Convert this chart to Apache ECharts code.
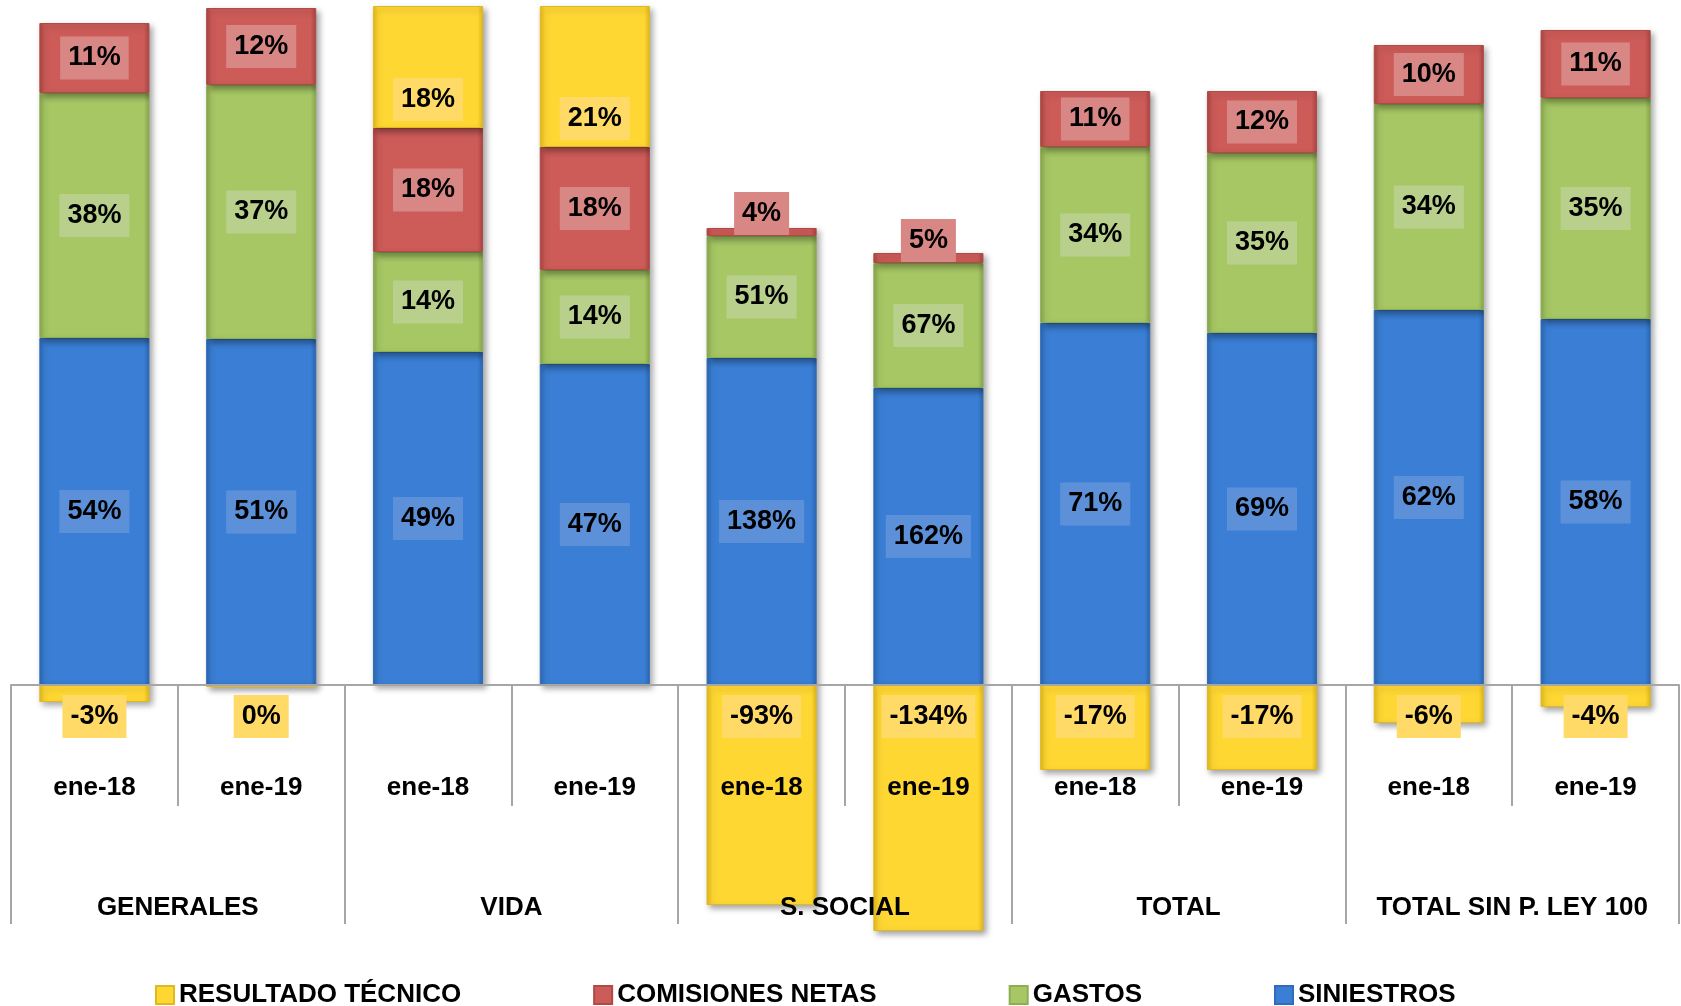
<!DOCTYPE html>
<html>
<head>
<meta charset="utf-8">
<script src="https://cdn.jsdelivr.net/npm/echarts@6/dist/echarts.min.js"></script>
<style>
html,body{margin:0;padding:0;background:#fff;}
#chart{width:1681px;height:1006px;}
</style>
</head>
<body>
<div id="chart"></div>
<script>
// Categories
const months = ['ene-18','ene-19','ene-18','ene-19','ene-18','ene-19','ene-18','ene-19','ene-18','ene-19'];
const groups = ['GENERALES','VIDA','S. SOCIAL','TOTAL','TOTAL SIN P. LEY 100'];

// Amounts (bar heights)
const siniestros  = [347, 346, 333, 321, 327, 297, 362, 352, 375, 366];
const gastos      = [245, 254, 100,  94, 122, 125, 176, 180, 206, 221];
const comisiones  = [ 70,  77, 124, 123,   8,  10,  56,  62,  59,  68];
const resultado   = [-17,  -2, 122, 141, -220, -246, -85, -85, -38, -22];

// Percent labels shown on the bars
const siniestrosPct = [54, 51, 49, 47, 138, 162, 71, 69, 62, 58];
const gastosPct     = [38, 37, 14, 14, 51, 67, 34, 35, 34, 35];
const comisionesPct = [11, 12, 18, 18, 4, 5, 11, 12, 10, 11];
const resultadoPct  = [-3, 0, 18, 21, -93, -134, -17, -17, -6, -4];

const FONT = "'Liberation Sans Narrow','Liberation Sans',Arial,sans-serif";

function labelBase(bg) {
  return {
    show: true,
    fontFamily: FONT,
    fontWeight: 'bold',
    fontSize: 27,
    lineHeight: 31,
    color: '#000',
    backgroundColor: bg,
    padding: [6, 8, 6, 8]
  };
}

function makeData(vals, pcts, kind) {
  return vals.map((v, i) => {
    const item = { value: v, pct: pcts[i] };
    if (kind === 'res') {
      item.label = v >= 0 ? { position: 'insideBottom', distance: 7 } : { position: 'insideTop', distance: 10 };
    } else if (kind === 'com' && v < 20) {
      item.label = { position: 'insideBottom', distance: 1 };
    }
    return item;
  });
}

function barStyle(color, edge, border) {
  return {
    color: {
      type: 'linear', x: 0, y: 0, x2: 1, y2: 0,
      colorStops: [
        { offset: 0, color: edge },
        { offset: 0.05, color: color },
        { offset: 0.95, color: color },
        { offset: 1, color: edge }
      ]
    },
    borderColor: border,
    borderWidth: 1,
    shadowColor: 'rgba(0,0,0,0.35)',
    shadowBlur: 6,
    shadowOffsetX: 3,
    shadowOffsetY: 3
  };
}

const fmt = p => p.data.pct + '%';

const chart = echarts.init(document.getElementById('chart'));
chart.setOption({
  animation: false,
  backgroundColor: '#ffffff',
  // grid bottom edge is the zero line; negative bars are drawn below it (clip: false)
  grid: { left: 11, right: 2, top: 5, bottom: 321, containLabel: false, outerBoundsMode: 'none' },
  legend: {
    data: ['RESULTADO TÉCNICO', 'COMISIONES NETAS', 'GASTOS', 'SINIESTROS'],
    left: 155,
    top: 982,
    padding: 0,
    icon: 'rect',
    itemWidth: 18,
    itemHeight: 18,
    itemGap: 132,
    textStyle: { fontFamily: FONT, fontWeight: 'bold', fontSize: 26, color: '#000' }
  },
  xAxis: [
    {
      type: 'category',
      data: months,
      position: 'bottom',
      axisLine: { show: true, onZero: false, lineStyle: { color: '#a6a6a6', width: 2 } },
      axisTick: { show: true, interval: 0, length: 121, lineStyle: { color: '#a6a6a6', width: 2 } },
      axisLabel: { interval: 0, margin: 90, fontFamily: FONT, fontWeight: 'bold', fontSize: 26, color: '#000' },
      z: 3
    },
    {
      type: 'category',
      data: groups,
      position: 'bottom',
      axisLine: { show: false, onZero: false },
      axisTick: { show: true, interval: 0, length: 239, lineStyle: { color: '#a6a6a6', width: 2 } },
      axisLabel: { interval: 0, margin: 210, fontFamily: FONT, fontWeight: 'bold', fontSize: 26, color: '#000' },
      z: 3
    }
  ],
  yAxis: {
    type: 'value',
    min: 0,
    max: 680,
    show: false,
    splitLine: { show: false }
  },
  series: [
    {
      name: 'SINIESTROS', type: 'bar', stack: 'total', barWidth: '66%', clip: false,
      itemStyle: barStyle('#3a7fd5', '#2c66b0', '#2f6cbb'),
      label: Object.assign(labelBase('#5c91da'), { position: 'inside', formatter: fmt }),
      data: makeData(siniestros, siniestrosPct, 'sin')
    },
    {
      name: 'GASTOS', type: 'bar', stack: 'total', clip: false,
      itemStyle: barStyle('#a6c764', '#87a64c', '#8eae52'),
      label: Object.assign(labelBase('#b9d08d'), { position: 'inside', formatter: fmt }),
      data: makeData(gastos, gastosPct, 'gas')
    },
    {
      name: 'COMISIONES NETAS', type: 'bar', stack: 'total', clip: false,
      itemStyle: barStyle('#cd5b58', '#a94542', '#b04a47'),
      label: Object.assign(labelBase('#d88785'), { position: 'inside', formatter: fmt }),
      data: makeData(comisiones, comisionesPct, 'com')
    },
    {
      name: 'RESULTADO TÉCNICO', type: 'bar', stack: 'total', clip: false,
      itemStyle: barStyle('#ffd733', '#e3b919', '#e0b81f'),
      label: Object.assign(labelBase('#ffda66'), { position: 'inside', formatter: fmt }),
      data: makeData(resultado, resultadoPct, 'res')
    }
  ]
});
</script>
</body>
</html>
